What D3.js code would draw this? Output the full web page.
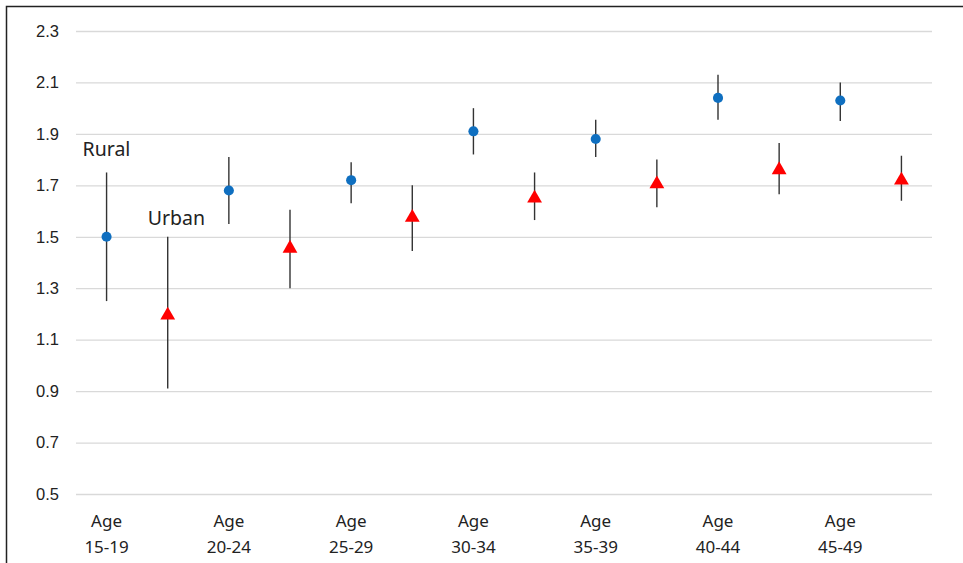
<!DOCTYPE html>
<html>
<head>
<meta charset="utf-8">
<script src="https://cdn.jsdelivr.net/npm/d3@7"></script>
<style>
  body { margin: 0; background: #fff; }
  svg { display: block; font-family: 'Noto Sans', 'Open Sans', sans-serif; }
</style>
</head>
<body>
<svg id="chart"></svg>
<script>
const AGE_GROUPS = ['15-19', '20-24', '25-29', '30-34', '35-39', '40-44', '45-49']
const RURAL = [1.50, 1.68, 1.72, 1.91, 1.88, 2.04, 2.03]
const RURAL_LOW = [1.25, 1.55, 1.63, 1.82, 1.81, 1.955, 1.95]
const RURAL_HIGH = [1.75, 1.81, 1.79, 2.00, 1.955, 2.13, 2.10]
const URBAN = [1.195, 1.455, 1.575, 1.65, 1.705, 1.76, 1.72]
const URBAN_LOW = [0.91, 1.30, 1.445, 1.565, 1.615, 1.665, 1.64]
const URBAN_HIGH = [1.50, 1.605, 1.70, 1.75, 1.80, 1.865, 1.815]
const Y_TICKS = [0.5, 0.7, 0.9, 1.1, 1.3, 1.5, 1.7, 1.9, 2.1, 2.3]

const width = 963
const height = 563
const margin = { left: 76, right: 31, top: 31, bottom: 69 }

const svg = d3.select('#chart')
    .attr('width', width)
    .attr('height', height)

// frame (only top and left edges show in the picture)
svg.append('path')
    .attr('d', `M6.5,${height} V6.5 H${width}`)
    .attr('fill', 'none')
    .attr('stroke', '#222')
    .attr('stroke-width', 1.5)

const slots = []
AGE_GROUPS.forEach(g => { slots.push(g + '-R'); slots.push(g + '-U') })

const x = d3.scaleBand()
    .domain(slots)
    .range([margin.left, width - margin.right])

const y = d3.scaleLinear()
    .domain([0.5, 2.3])
    .range([height - margin.bottom, margin.top])

// gridlines + y labels
const yAxis = svg.append('g')
    .attr('transform', `translate(${margin.left},0)`)
    .call(d3.axisLeft(y).tickValues(Y_TICKS).tickFormat(d3.format('.1f'))
        .tickSize(-(width - margin.left - margin.right)).tickPadding(17))
yAxis.select('.domain').remove()
yAxis.selectAll('.tick line').attr('stroke', '#d9d9d9').attr('stroke-width', 1.3)
yAxis.selectAll('.tick text').attr('fill', '#222').style('font-size', '16.5px')

function drawSeries(key, values, low, high, symbol, color, size) {
    const data = AGE_GROUPS.map((g, i) => ({ slot: g + key, v: values[i], lo: low[i], hi: high[i] }))
    const cx = d => x(d.slot) + x.bandwidth() / 2

    svg.selectAll('.err' + key)
        .data(data)
        .enter().append('line')
        .attr('x1', cx).attr('x2', cx)
        .attr('y1', d => y(d.lo)).attr('y2', d => y(d.hi))
        .attr('stroke', '#333')
        .attr('stroke-width', 1.4)

    svg.selectAll('.pt' + key)
        .data(data)
        .enter().append('path')
        .attr('d', d3.symbol().type(symbol).size(size))
        .attr('transform', d => `translate(${cx(d)},${y(d.v)})`)
        .attr('fill', color)
}

drawSeries('-R', RURAL, RURAL_LOW, RURAL_HIGH, d3.symbolCircle, '#0f6fc0', 80)
drawSeries('-U', URBAN, URBAN_LOW, URBAN_HIGH, d3.symbolTriangle, '#ff0000', 95)

// x labels
const xl = svg.append('g')
    .selectAll('text')
    .data(AGE_GROUPS)
    .enter().append('text')
    .attr('x', g => x(g + '-R') + x.bandwidth() / 2)
    .attr('text-anchor', 'middle')
    .attr('fill', '#222')
    .style('font-size', '17px')
xl.append('tspan').attr('x', g => x(g + '-R') + x.bandwidth() / 2).attr('y', 527).text('Age')
xl.append('tspan').attr('x', g => x(g + '-R') + x.bandwidth() / 2).attr('y', 553).text(g => g)

// series labels
svg.append('text')
    .attr('x', x(AGE_GROUPS[0] + '-R') + x.bandwidth() / 2 - 24)
    .attr('y', y(RURAL_HIGH[0]) - 16)
    .attr('fill', '#222')
    .style('font-size', '19.5px')
    .text('Rural')

svg.append('text')
    .attr('x', x(AGE_GROUPS[0] + '-U') + x.bandwidth() / 2 - 20)
    .attr('y', y(URBAN_HIGH[0]) - 12)
    .attr('fill', '#222')
    .style('font-size', '19.5px')
    .text('Urban')
</script>
</body>
</html>
